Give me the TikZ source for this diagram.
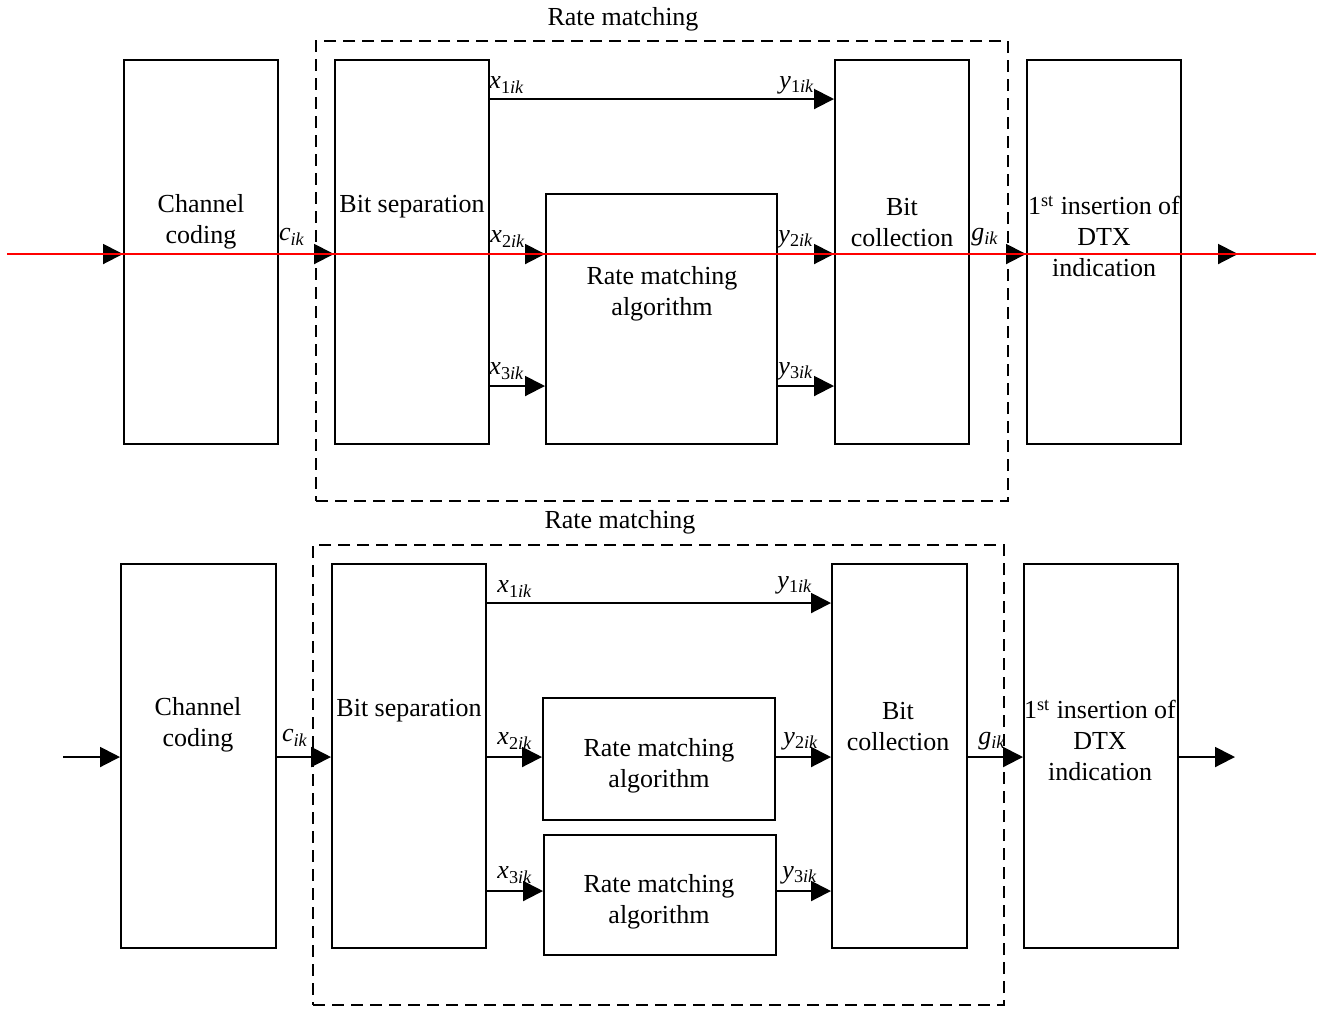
\documentclass[tikz,border=0pt]{standalone}
\usepackage{fontspec}
\setmainfont{Liberation Serif}
\usetikzlibrary{arrows.meta}
\newcommand{\vsub}[2]{\textit{#1}\textsubscript{#2}}
\tikzset{
  blk/.style={draw, line width=1pt, inner sep=0pt},
  txt/.style={align=center, inner sep=0pt, font=\fontsize{13}{15.5}\selectfont, yshift=-1.3pt},
  lbl/.style={inner sep=0pt, font=\fontsize{13}{15.5}\selectfont},
  conn/.style={line width=1pt, -{Triangle[length=10pt,width=10pt]}},
  frame/.style={draw, line width=0.8pt, dash pattern=on 6pt off 3.5pt},
  redline/.style={draw=red, line width=1pt}
}
\begin{document}
\begin{tikzpicture}[x=0.5pt,y=-0.5pt]
\useasboundingbox (0,0) rectangle (1321,1009);

% ---------------- top diagram ----------------
\node[frame, minimum width=346pt, minimum height=230pt] (fa) at (662,271) {};
\node[lbl] (fat) at (623,19) {Rate matching};

\node[blk, minimum width=77pt, minimum height=192pt] (cca) at (201,252) {};
\node[txt] (ccat) at (201,219) {Channel\\coding};
\node[blk, minimum width=77pt, minimum height=192pt] (bsa) at (412,252) {};
\node[txt] (bsat) at (412,204) {Bit separation};
\node[blk, minimum width=115.5pt, minimum height=125pt] (rma) at (661.5,319) {};
\node[txt] (rmat) at (662,291) {Rate matching\\algorithm};
\node[blk, minimum width=67pt, minimum height=192pt] (bca) at (902,252) {};
\node[txt] (bcat) at (902,219.5) {Bit\\collection};
\node[blk, minimum width=77pt, minimum height=192pt] (dia) at (1104,252) {};
\node[txt] (diat) at (1104,234) {1\textsuperscript{st} insertion of\\DTX\\indication};

\coordinate (ina) at (66,254);
\coordinate (outa) at (1238,254);
\coordinate (ra) at (0,254);
\coordinate (r1a) at (0,99);
\coordinate (r3a) at (0,386);

\draw[conn] (ina) -- (cca.west |- ra);
\draw[conn] (cca.east |- ra) -- (bsa.west |- ra);
\draw[conn] (bsa.east |- r1a) -- (bca.west |- r1a);
\draw[conn] (bsa.east |- ra) -- (rma.west |- ra);
\draw[conn] (bsa.east |- r3a) -- (rma.west |- r3a);
\draw[conn] (rma.east |- ra) -- (bca.west |- ra);
\draw[conn] (rma.east |- r3a) -- (bca.west |- r3a);
\draw[conn] (bca.east |- ra) -- (dia.west |- ra);
\draw[conn] (dia.east |- ra) -- (outa);

\node[lbl] (ca) at (292,237) {\vsub{c}{\textit{ik}}};
\node[lbl] (x1a) at (507,85) {\vsub{x}{1\textit{ik}}};
\node[lbl] (y1a) at (797,85) {\vsub{y}{1\textit{ik}}};
\node[lbl] (x2a) at (508,239) {\vsub{x}{2\textit{ik}}};
\node[lbl] (y2a) at (796,239) {\vsub{y}{2\textit{ik}}};
\node[lbl] (x3a) at (507,371) {\vsub{x}{3\textit{ik}}};
\node[lbl] (y3a) at (796,371) {\vsub{y}{3\textit{ik}}};
\node[lbl] (ga) at (985,237) {\vsub{g}{\textit{ik}}};

\coordinate (redl) at (7,254);
\coordinate (redr) at (1316,254);
\draw[redline] (redl) -- (redr);

% ---------------- bottom diagram ----------------
\node[frame, minimum width=345.5pt, minimum height=230pt] (fb) at (658.5,775) {};
\node[lbl] (fbt) at (620,522) {Rate matching};

\node[blk, minimum width=77.5pt, minimum height=192pt] (ccb) at (198.5,756) {};
\node[txt] (ccbt) at (198,722.5) {Channel\\coding};
\node[blk, minimum width=77pt, minimum height=192pt] (bsb) at (409,756) {};
\node[txt] (bsbt) at (409,708) {Bit separation};
\node[blk, minimum width=116pt, minimum height=61pt] (rmb1) at (659,759) {};
\node[txt] (rmb1t) at (659,763) {Rate matching\\algorithm};
\node[blk, minimum width=116pt, minimum height=60pt] (rmb2) at (660,895) {};
\node[txt] (rmb2t) at (659,899.5) {Rate matching\\algorithm};
\node[blk, minimum width=67.5pt, minimum height=192pt] (bcb) at (899.5,756) {};
\node[txt] (bcbt) at (898,723.5) {Bit\\collection};
\node[blk, minimum width=77pt, minimum height=192pt] (dib) at (1101,756) {};
\node[txt] (dibt) at (1100,738) {1\textsuperscript{st} insertion of\\DTX\\indication};

\coordinate (inb) at (63,757);
\coordinate (outb) at (1235,757);
\coordinate (rb) at (0,757);
\coordinate (r1b) at (0,603);
\coordinate (r3b) at (0,891);

\draw[conn] (inb) -- (ccb.west |- rb);
\draw[conn] (ccb.east |- rb) -- (bsb.west |- rb);
\draw[conn] (bsb.east |- r1b) -- (bcb.west |- r1b);
\draw[conn] (bsb.east |- rb) -- (rmb1.west |- rb);
\draw[conn] (bsb.east |- r3b) -- (rmb2.west |- r3b);
\draw[conn] (rmb1.east |- rb) -- (bcb.west |- rb);
\draw[conn] (rmb2.east |- r3b) -- (bcb.west |- r3b);
\draw[conn] (bcb.east |- rb) -- (dib.west |- rb);
\draw[conn] (dib.east |- rb) -- (outb);

\node[lbl] (cb) at (295,738) {\vsub{c}{\textit{ik}}};
\node[lbl] (x1b) at (515,589) {\vsub{x}{1\textit{ik}}};
\node[lbl] (y1b) at (795,585) {\vsub{y}{1\textit{ik}}};
\node[lbl] (x2b) at (515,741) {\vsub{x}{2\textit{ik}}};
\node[lbl] (y2b) at (801,741) {\vsub{y}{2\textit{ik}}};
\node[lbl] (x3b) at (515,875) {\vsub{x}{3\textit{ik}}};
\node[lbl] (y3b) at (800,875) {\vsub{y}{3\textit{ik}}};
\node[lbl] (gb) at (992,741) {\vsub{g}{\textit{ik}}};
\end{tikzpicture}
\end{document}
